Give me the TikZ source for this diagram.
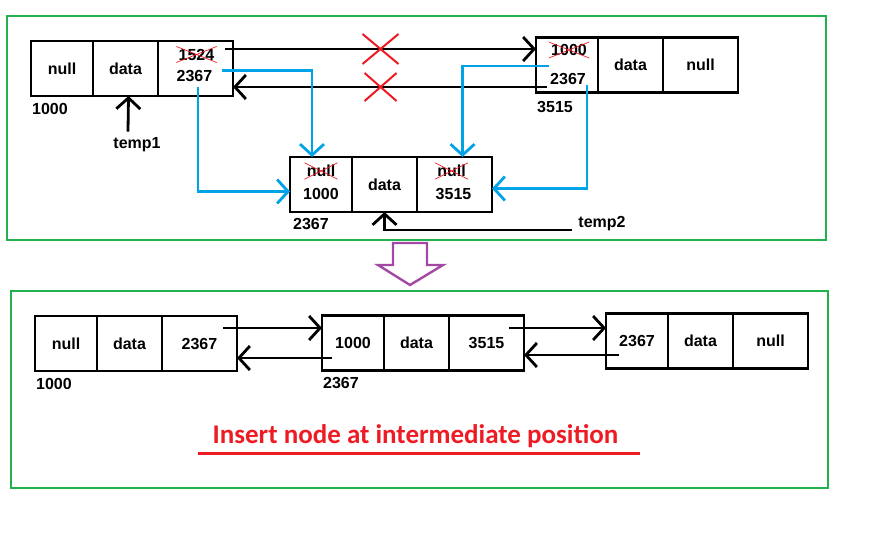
\documentclass[tikz,border=0pt]{standalone}
\usepackage{fontspec}
\setmainfont{Liberation Sans}
\newfontfamily\titlefont{Carlito}
\usetikzlibrary{positioning,arrows.meta,shapes.misc}
\definecolor{paintgreen}{HTML}{22B14C}
\definecolor{paintblue}{HTML}{00A2E8}
\definecolor{paintred}{HTML}{ED1C24}
\definecolor{paintpurple}{HTML}{A349A4}
\tikzset{
  cell/.style={rectangle, draw, line width=2.9pt, minimum height=55pt, outer sep=0pt, inner sep=0pt, font=\fontsize{16}{18}\selectfont\bfseries},
  prevcell/.style={cell, minimum width=62pt},
  datacell/.style={cell, minimum width=65pt},
  nextcell/.style={cell, minimum width=75pt},
  lbl/.style={inner sep=0pt, font=\fontsize{16}{18}\selectfont\bfseries},
  addr/.style={lbl, anchor=north west},
  gone/.style={lbl, cross out, draw=paintred, line width=0.7pt, inner sep=2pt},
  cut/.style={cross out, draw=paintred, line width=2pt, inner sep=0pt, minimum width=34pt, minimum height=28pt},
  fwd/.style={-{Straight Barb[length=11pt,width=24pt]}, line width=2.8pt},
  link/.style={fwd, paintblue},
  frame/.style={draw=paintgreen, line width=2.2pt},
}

\begin{document}
\begin{tikzpicture}[x=1pt, y=-1pt]
  \useasboundingbox (0,0) rectangle (880,541);
  \draw[frame] (7,16) rectangle (826,240);
  \draw[frame] (11,291) rectangle (828,488);

  % before insertion
  \node[prevcell] (a1) at (62,68.5) {null};
  \node[datacell] (a2) [right=0pt of a1] {data};
  \node[nextcell] (a3) [right=0pt of a2] {};
  \node[gone] (a3old) at ([xshift=1pt,yshift=14pt]a3.center) {1524};
  \node[lbl] (a3new) at ([xshift=-1pt,yshift=-8pt]a3.center) {2367};
  \node[addr] (a0) at ([xshift=1pt,yshift=-7pt]a1.south west) {1000};

  \node[prevcell] (b1) at (567,65) {};
  \node[datacell] (b2) [right=0pt of b1] {data};
  \node[nextcell] (b3) [right=0pt of b2] {null};
  \node[gone] (b1old) at ([xshift=2pt,yshift=15pt]b1.center) {1000};
  \node[lbl] (b1new) at ([xshift=1pt,yshift=-14pt]b1.center) {2367};
  \node[addr] (b0) at ([xshift=1pt,yshift=-9pt]b1.south west) {3515};

  \node[prevcell] (c1) at (321,184.5) {};
  \node[datacell] (c2) [right=0pt of c1] {data};
  \node[nextcell] (c3) [right=0pt of c2] {};
  \node[gone] (c1old) at ([yshift=13.5pt]c1.center) {null};
  \node[lbl] (c1new) at ([yshift=-9pt]c1.center) {1000};
  \node[gone] (c3old) at ([xshift=-3pt,yshift=13.5pt]c3.center) {null};
  \node[lbl] (c3new) at ([xshift=-1pt,yshift=-9.5pt]c3.center) {3515};
  \node[addr] (c0) at ([xshift=3pt,yshift=-6pt]c1.south west) {2367};

  \node[lbl] (temp1) at (137,145) {temp1};
  \node[lbl] (temp2) at (602,224) {temp2};

  \draw[fwd] ([xshift=-8pt,yshift=19.5pt]a3.east) -- node[cut] (x1) {} ([yshift=16pt]b1.west);
  \draw[fwd] ([xshift=11pt,yshift=-22pt]b1.west) -- node[cut, pos=0.53, minimum width=30pt, minimum height=26pt] (x2) {} ([yshift=-18.5pt]a3.east);
  \draw[fwd] ([xshift=-9pt,yshift=6pt]temp1.north) -- ([xshift=3pt]a2.south);
  \draw[fwd] ([xshift=-30pt,yshift=-6pt]temp2.center) -| (c2.south);

  \draw[link] ([xshift=-11pt,yshift=-2pt]a3.east) -| ([xshift=-9pt]c1.north);
  \draw[link] ([xshift=2.5pt,yshift=-18pt]a3.center) |- ([yshift=-7pt]c1.west);
  \draw[link] ([xshift=-18pt,yshift=-1pt]b1.center) -| ([xshift=8pt]c3.north);
  \draw[link] ([xshift=20pt,yshift=-20pt]b1.center) |- ([yshift=-4pt]c3.east);

  \draw[paintpurple, line width=2.4pt] (393,243) -- (393,265) -- (378,265) -- (410,285) -- (443,265) -- (427,265) -- (427,243) -- cycle;

  % after insertion
  \node[prevcell] (d1) at (66,343.5) {null};
  \node[datacell] (d2) [right=0pt of d1] {data};
  \node[nextcell] (d3) [right=0pt of d2] {2367};
  \node[addr] (d0) at ([xshift=1pt,yshift=-7pt]d1.south west) {1000};

  \node[prevcell] (e1) at (353,343) {1000};
  \node[datacell] (e2) [right=0pt of e1] {data};
  \node[nextcell] (e3) [right=0pt of e2] {3515};
  \node[addr] (e0) at ([xshift=1pt,yshift=-7pt]e1.south west) {2367};

  \node[prevcell] (f1) at (637,341) {2367};
  \node[datacell] (f2) [right=0pt of f1] {data};
  \node[nextcell] (f3) [right=0pt of f2] {null};

  \draw[fwd] ([xshift=-14pt,yshift=15.5pt]d3.east) -- ([yshift=15pt]e1.west);
  \draw[fwd] ([xshift=10pt,yshift=-15pt]e1.west) -- ([yshift=-14.5pt]d3.east);
  \draw[fwd] ([xshift=-15pt,yshift=15pt]e3.east) -- ([yshift=13pt]f1.west);
  \draw[fwd] ([xshift=13pt,yshift=-14pt]f1.west) -- ([yshift=-12pt]e3.east);

  \node[text=paintred, font=\titlefont\fontsize{27}{30}\selectfont\bfseries] (title) at (415.5,436) {Insert node at intermediate position};
  \draw[paintred, line width=3pt] ([xshift=-217.5pt,yshift=-17pt]title.center) -- ([xshift=224.5pt,yshift=-17pt]title.center);
\end{tikzpicture}
\end{document}
